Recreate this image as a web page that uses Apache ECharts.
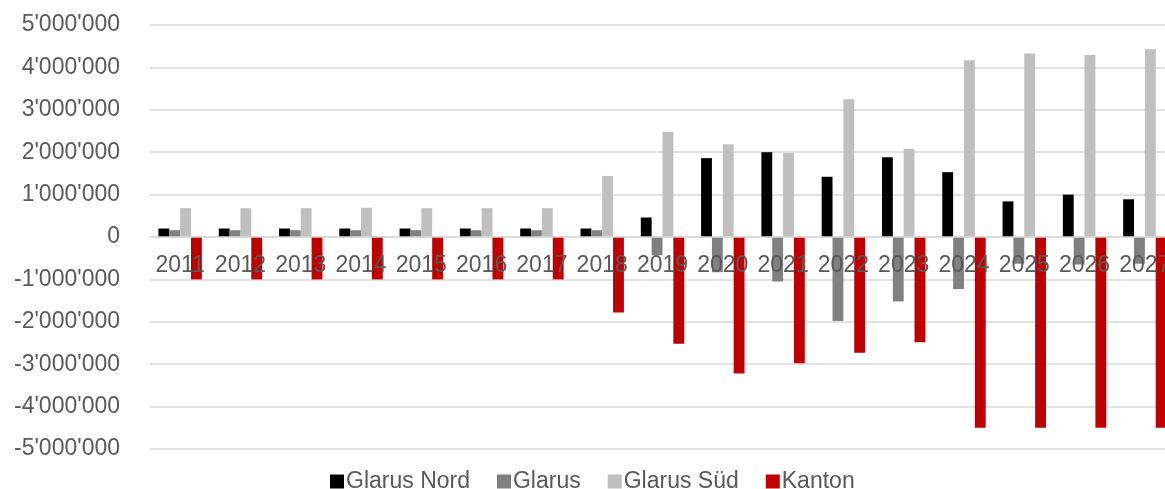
<!DOCTYPE html>
<html>
<head>
<meta charset="utf-8">
<script src="https://cdn.jsdelivr.net/npm/echarts@6/dist/echarts.min.js"></script>
<style>
html,body{margin:0;padding:0;background:#fff;overflow:hidden;}
#chart{width:1175px;height:489px;}
</style>
</head>
<body>
<div id="chart"></div>
<script>
const years = ['2011','2012','2013','2014','2015','2016','2017','2018','2019','2020','2021','2022','2023','2024','2025','2026','2027'];
const glarusNord = [200000,200000,200000,200000,200000,200000,200000,200000,460000,1860000,2000000,1420000,1880000,1530000,840000,1000000,890000];
const glarus = [160000,160000,160000,160000,160000,160000,160000,160000,-430000,-830000,-1050000,-1980000,-1520000,-1230000,-630000,-650000,-630000];
const glarusSued = [680000,680000,680000,690000,680000,680000,680000,1440000,2480000,2190000,1980000,3250000,2080000,4170000,4330000,4290000,4430000];
const kanton = [-1000000,-1000000,-1000000,-1000000,-1000000,-1000000,-1000000,-1780000,-2520000,-3220000,-2980000,-2730000,-2480000,-4500000,-4500000,-4500000,-4500000];

function fmt(v){
  const neg = v < 0;
  let s = Math.abs(Math.round(v)).toString();
  s = s.replace(/\B(?=(\d{3})+(?!\d))/g, "'");
  return (neg ? '-' : '') + s;
}

const font = 'Liberation Sans, Arial, sans-serif';
const chart = echarts.init(document.getElementById('chart'), null, {renderer:'canvas'});
const mk = (name, data, color) => ({
  name, type:'bar', data, barGap:'0%', barCategoryGap:'28%',
  itemStyle:{color}, emphasis:{disabled:true}
});
chart.setOption({
  animation:false,
  textStyle:{fontFamily:font},
  grid:{left:150, top:25, right:0, height:424, containLabel:false},
  legend:{
    bottom:-9, left:325, itemWidth:14, itemHeight:14, itemGap:27,
    icon:'rect',
    textStyle:{color:'#595959', fontSize:23, fontFamily:font, padding:[0,0,0,-3]},
    data:['Glarus Nord','Glarus','Glarus Süd','Kanton']
  },
  xAxis:{
    type:'category', data:years, z:10, position:'bottom', offset:-212,
    axisLine:{show:true, onZero:false, lineStyle:{color:'#d9d9d9', width:1.5}},
    axisTick:{show:false},
    axisLabel:{color:'#595959', fontSize:23, fontFamily:font, margin:17, interval:0, hideOverlap:false}
  },
  yAxis:{
    type:'value', min:-5000000, max:5000000, interval:1000000,
    axisLine:{show:false}, axisTick:{show:false},
    splitLine:{lineStyle:{color:'#d9d9d9', width:1.5}},
    axisLabel:{color:'#595959', fontSize:23, fontFamily:font, margin:30, formatter:fmt}
  },
  series:[
    mk('Glarus Nord', glarusNord, '#000000'),
    mk('Glarus', glarus, '#808080'),
    mk('Glarus Süd', glarusSued, '#bfbfbf'),
    mk('Kanton', kanton, '#c00000')
  ]
});
</script>
</body>
</html>
